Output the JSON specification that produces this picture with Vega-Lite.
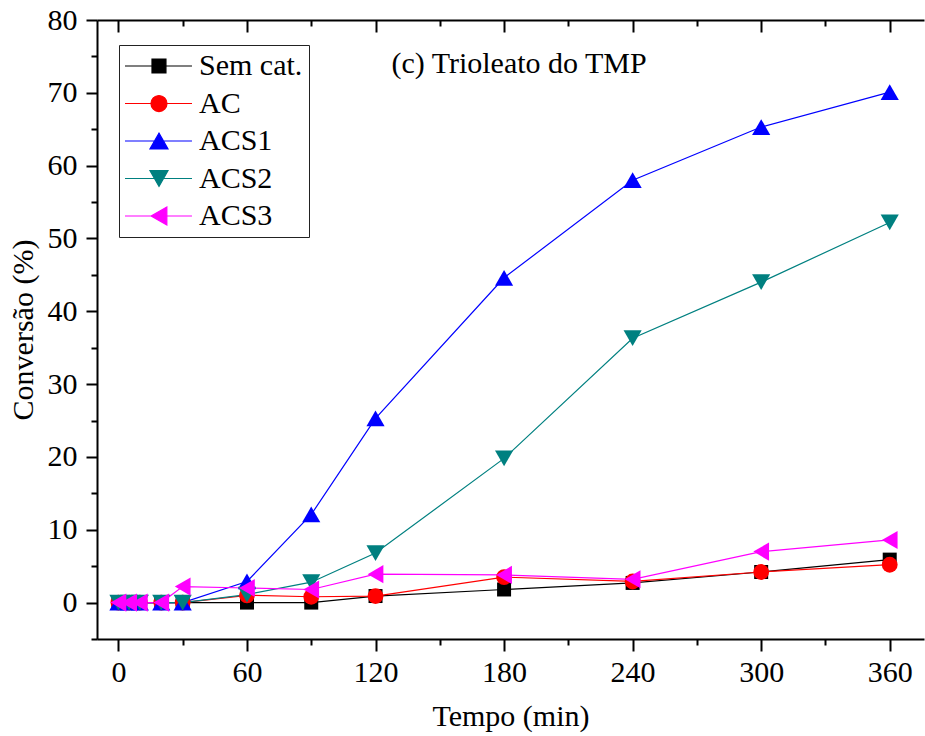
{
  "$schema": "https://vega.github.io/schema/vega-lite/v6.json",
  "width": 827,
  "height": 619,
  "autosize": "none",
  "padding": {"left": 97, "top": 20, "right": 1, "bottom": 97},
  "background": "white",
  "config": {
    "view": {"stroke": null},
    "font": "Liberation Serif",
    "axis": {
      "grid": false,
      "domainColor": "black",
      "tickColor": "black",
      "labelColor": "black",
      "titleColor": "black",
      "domainWidth": 2,
      "tickWidth": 2,
      "labelFont": "Liberation Serif",
      "titleFont": "Liberation Serif",
      "labelFontSize": 30,
      "titleFontSize": 30,
      "titleFontWeight": "normal"
    }
  },
  "datasets": {
    "conv": [
      {"series": "Sem cat.", "t": 0, "conv": 0},
      {"series": "Sem cat.", "t": 5, "conv": 0},
      {"series": "Sem cat.", "t": 10, "conv": 0},
      {"series": "Sem cat.", "t": 20, "conv": 0},
      {"series": "Sem cat.", "t": 30, "conv": 0},
      {"series": "Sem cat.", "t": 60, "conv": 0},
      {"series": "Sem cat.", "t": 90, "conv": 0},
      {"series": "Sem cat.", "t": 120, "conv": 0.9},
      {"series": "Sem cat.", "t": 180, "conv": 1.8},
      {"series": "Sem cat.", "t": 240, "conv": 2.7},
      {"series": "Sem cat.", "t": 300, "conv": 4.2},
      {"series": "Sem cat.", "t": 360, "conv": 5.9},
      {"series": "AC", "t": 0, "conv": 0},
      {"series": "AC", "t": 5, "conv": 0},
      {"series": "AC", "t": 10, "conv": 0},
      {"series": "AC", "t": 20, "conv": 0},
      {"series": "AC", "t": 30, "conv": 0},
      {"series": "AC", "t": 60, "conv": 1.0},
      {"series": "AC", "t": 90, "conv": 0.8},
      {"series": "AC", "t": 120, "conv": 0.9},
      {"series": "AC", "t": 180, "conv": 3.5},
      {"series": "AC", "t": 240, "conv": 2.9},
      {"series": "AC", "t": 300, "conv": 4.2},
      {"series": "AC", "t": 360, "conv": 5.2},
      {"series": "ACS1", "t": 0, "conv": 0},
      {"series": "ACS1", "t": 5, "conv": 0},
      {"series": "ACS1", "t": 10, "conv": 0},
      {"series": "ACS1", "t": 20, "conv": 0},
      {"series": "ACS1", "t": 30, "conv": 0},
      {"series": "ACS1", "t": 60, "conv": 2.9},
      {"series": "ACS1", "t": 90, "conv": 12.1},
      {"series": "ACS1", "t": 120, "conv": 25.3},
      {"series": "ACS1", "t": 180, "conv": 44.6},
      {"series": "ACS1", "t": 240, "conv": 58.0},
      {"series": "ACS1", "t": 300, "conv": 65.3},
      {"series": "ACS1", "t": 360, "conv": 70.1},
      {"series": "ACS2", "t": 0, "conv": 0},
      {"series": "ACS2", "t": 5, "conv": 0},
      {"series": "ACS2", "t": 10, "conv": 0},
      {"series": "ACS2", "t": 20, "conv": 0},
      {"series": "ACS2", "t": 30, "conv": 0},
      {"series": "ACS2", "t": 60, "conv": 1.1},
      {"series": "ACS2", "t": 90, "conv": 2.8},
      {"series": "ACS2", "t": 120, "conv": 6.8},
      {"series": "ACS2", "t": 180, "conv": 19.8},
      {"series": "ACS2", "t": 240, "conv": 36.3},
      {"series": "ACS2", "t": 300, "conv": 44.0},
      {"series": "ACS2", "t": 360, "conv": 52.2},
      {"series": "ACS3", "t": 0, "conv": 0},
      {"series": "ACS3", "t": 5, "conv": 0},
      {"series": "ACS3", "t": 10, "conv": 0},
      {"series": "ACS3", "t": 20, "conv": 0},
      {"series": "ACS3", "t": 30, "conv": 2.2},
      {"series": "ACS3", "t": 60, "conv": 2.0},
      {"series": "ACS3", "t": 90, "conv": 1.8},
      {"series": "ACS3", "t": 120, "conv": 3.9},
      {"series": "ACS3", "t": 180, "conv": 3.8},
      {"series": "ACS3", "t": 240, "conv": 3.2},
      {"series": "ACS3", "t": 300, "conv": 7.0},
      {"series": "ACS3", "t": 360, "conv": 8.6}
    ],
    "note": [
      {"label": "(c) Trioleato do TMP", "t": 187, "conv": 72.7}
    ]
  },
  "resolve": {"axis": {"x": "independent", "y": "independent"}},
  "layer": [
    {
      "data": {"name": "conv"},
      "mark": {"type": "line", "strokeWidth": 1.2},
      "encoding": {
        "x": {
          "field": "t", "type": "quantitative",
          "scale": {"domain": [-10, 376], "nice": false, "zero": false},
          "axis": {"orient": "bottom", "values": [0, 60, 120, 180, 240, 300, 360], "tickSize": 12, "labelPadding": 6, "title": "Tempo (min)", "titlePadding": 14}
        },
        "y": {
          "field": "conv", "type": "quantitative",
          "scale": {"domain": [-5, 80], "nice": false, "zero": false},
          "axis": {"orient": "left", "values": [0, 10, 20, 30, 40, 50, 60, 70, 80], "tickSize": 11, "labelPadding": 9, "title": "Conversão (%)", "titlePadding": 9}
        },
        "color": {
          "field": "series", "type": "nominal",
          "scale": {"domain": ["Sem cat.", "AC", "ACS1", "ACS2", "ACS3"], "range": ["#000000", "#FF0000", "#0000FF", "#008080", "#FF00FF"]},
          "legend": {
            "title": null,
            "orient": "none",
            "legendX": 22,
            "legendY": 25,
            "padding": 6,
            "strokeColor": "#222222",
            "fillColor": "white",
            "labelFont": "Liberation Serif",
            "labelFontSize": 30,
            "labelColor": "black",
            "labelOffset": 44,
            "rowPadding": 7.5,
            "symbolSize": 225,
            "symbolStrokeWidth": 1.2,
            "symbolOpacity": 1,
            "symbolType": {"expr": "datum.value === 'Sem cat.' ? 'M-2,0H6.93M1.6,-0.93H3.46V0.93H1.6Z' : datum.value === 'AC' ? 'M-2,0H6.93M1.46,0A1.07,1.07,0,1,1,3.6,0A1.07,1.07,0,1,1,1.46,0Z' : datum.value === 'ACS1' ? 'M-2,0H6.93M2.53,-1.05L3.73,1.05L1.33,1.05Z' : datum.value === 'ACS2' ? 'M-2,0H6.93M2.53,1.05L3.73,-1.05L1.33,-1.05Z' : 'M-2,0H6.93M1.48,0L3.58,-1.2L3.58,1.2Z'"},
            "symbolFillColor": {"expr": "datum.value === 'Sem cat.' ? '#000000' : datum.value === 'AC' ? '#FF0000' : datum.value === 'ACS1' ? '#0000FF' : datum.value === 'ACS2' ? '#008080' : '#FF00FF'"},
            "symbolStrokeColor": {"expr": "datum.value === 'Sem cat.' ? '#000000' : datum.value === 'AC' ? '#FF0000' : datum.value === 'ACS1' ? '#0000FF' : datum.value === 'ACS2' ? '#008080' : '#FF00FF'"}
          }
        }
      }
    },
    {
      "data": {"name": "conv"},
      "transform": [{"filter": "datum.series === 'Sem cat.'"}],
      "mark": {"type": "point", "filled": true, "opacity": 1, "shape": "square", "size": 196},
      "encoding": {
        "x": {
          "field": "t", "type": "quantitative",
          "axis": {"orient": "bottom", "values": [30, 90, 150, 210, 270, 330], "tickSize": 6, "labels": false, "domain": false, "title": null}
        },
        "y": {
          "field": "conv", "type": "quantitative",
          "axis": {"orient": "left", "values": [-5, 5, 15, 25, 35, 45, 55, 65, 75], "tickSize": 6, "labels": false, "domain": false, "title": null}
        },
        "color": {"field": "series", "type": "nominal", "legend": null}
      }
    },
    {
      "data": {"name": "conv"},
      "transform": [{"filter": "datum.series === 'AC'"}],
      "mark": {"type": "point", "filled": true, "opacity": 1, "shape": "circle", "size": 250},
      "encoding": {
        "x": {"field": "t", "type": "quantitative", "axis": null},
        "y": {"field": "conv", "type": "quantitative", "axis": null},
        "color": {"field": "series", "type": "nominal", "legend": null}
      }
    },
    {
      "data": {"name": "conv"},
      "transform": [{"filter": "datum.series === 'ACS1'"}],
      "mark": {"type": "point", "filled": true, "opacity": 1, "shape": "triangle-up", "size": 330},
      "encoding": {
        "x": {"field": "t", "type": "quantitative", "axis": null},
        "y": {"field": "conv", "type": "quantitative", "axis": null},
        "color": {"field": "series", "type": "nominal", "legend": null}
      }
    },
    {
      "data": {"name": "conv"},
      "transform": [{"filter": "datum.series === 'ACS2'"}],
      "mark": {"type": "point", "filled": true, "opacity": 1, "shape": "triangle-down", "size": 330},
      "encoding": {
        "x": {"field": "t", "type": "quantitative", "axis": null},
        "y": {"field": "conv", "type": "quantitative", "axis": null},
        "color": {"field": "series", "type": "nominal", "legend": null}
      }
    },
    {
      "data": {"name": "conv"},
      "transform": [{"filter": "datum.series === 'ACS3'"}],
      "mark": {"type": "point", "filled": true, "opacity": 1, "shape": "triangle-left", "size": 330},
      "encoding": {
        "x": {"field": "t", "type": "quantitative", "axis": null},
        "y": {"field": "conv", "type": "quantitative", "axis": null},
        "color": {"field": "series", "type": "nominal", "legend": null}
      }
    },
    {
      "data": {"name": "conv"},
      "mark": {"type": "point", "opacity": 0},
      "encoding": {
        "x": {
          "field": "t", "type": "quantitative",
          "axis": {"orient": "top", "values": [0, 60, 120, 180, 240, 300, 360], "tickSize": -12, "labels": false, "title": null}
        },
        "y": {"field": "conv", "type": "quantitative", "axis": null}
      }
    },
    {
      "data": {"name": "conv"},
      "mark": {"type": "point", "opacity": 0},
      "encoding": {
        "x": {
          "field": "t", "type": "quantitative",
          "axis": {"orient": "top", "values": [30, 90, 150, 210, 270, 330], "tickSize": -6, "labels": false, "domain": false, "title": null}
        },
        "y": {"field": "conv", "type": "quantitative", "axis": null}
      }
    },
    {
      "data": {"name": "note"},
      "mark": {"type": "text", "font": "Liberation Serif", "fontSize": 30, "align": "center", "baseline": "alphabetic", "color": "black"},
      "encoding": {
        "x": {"field": "t", "type": "quantitative", "axis": null},
        "y": {"field": "conv", "type": "quantitative", "axis": null},
        "text": {"field": "label"}
      }
    }
  ]
}
